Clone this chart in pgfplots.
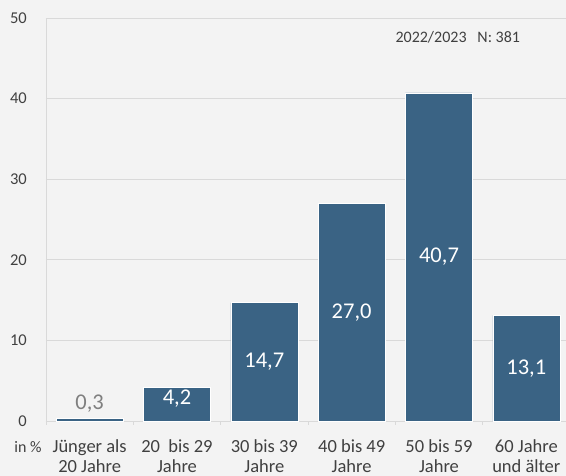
\documentclass[border=0pt]{standalone}
\usepackage{pgfplots}
\pgfplotsset{compat=1.18}
\usepackage{fontspec}
\setmainfont{Carlito}
\definecolor{bg}{HTML}{F3F3F3}
\definecolor{barc}{HTML}{3A6384}
\definecolor{gridc}{HTML}{D9D9D9}
\definecolor{txt}{HTML}{404040}
\definecolor{lbl}{HTML}{7F7F7F}
\begin{document}
\begin{tikzpicture}
\fill[bg] (-46pt,-55pt) rectangle (520pt,421pt);
\begin{axis}[
    at={(0,0)}, anchor=south west,
    scale only axis, width=524pt, height=403pt,
    xmin=-0.5, xmax=5.5, ymin=0, ymax=50,
    enlargelimits=false, clip=false,
    axis x line*=bottom, axis y line*=left,
    axis line style={draw=gridc, line width=0.8pt},
    ytick={0,10,...,50},
    /pgf/number format/assume math mode=true,
    ymajorgrids, grid style={draw=gridc, line width=0.8pt},
    ytick style={draw=none},
    xtick={-0.5,0.5,...,5.5},
    x tick label as interval,
    xticklabels={J\"unger als\\20 Jahre, 20\ \ bis 29\\Jahre, 30 bis 39\\Jahre,
                 40 bis 49\\Jahre, 50 bis 59\\Jahre, 60 Jahre\\und \"alter},
    xtick style={draw=gridc, line width=0.8pt},
    tick align=outside, major tick length=4pt,
    xticklabel style={align=center, inner sep=0pt, text=txt,
        font=\fontsize{18.5}{20.5}\selectfont, anchor=north, yshift=-14pt},
    yticklabel style={text=txt, inner sep=0pt, xshift=-15pt,
        font=\fontsize{16.5}{18}\selectfont},
]
\addplot[ybar, bar width=67pt, fill=barc, draw=white, line width=0.5pt]
    coordinates {(0,0.3) (1,4.2) (2,14.7) (3,27.0) (4,40.7) (5,13.1)};
% labels inside the bars
\addplot[draw=none, mark=none, nodes near coords, point meta=explicit symbolic,
    nodes near coords align=center,
    every node near coord/.append style={text=white, font=\fontsize{22.5}{24}\selectfont}]
    coordinates {(1,2.8)[4,2] (2,7.35)[14,7] (3,13.5)[27,0] (4,20.35)[40,7] (5,6.55)[13,1]};
\addplot[draw=none, mark=none, nodes near coords, point meta=explicit symbolic,
    nodes near coords align=center,
    every node near coord/.append style={text=lbl, font=\fontsize{22.5}{24}\selectfont}]
    coordinates {(0,2.2)[0,3]};
\node[anchor=base west, text=txt, font=\fontsize{16}{18}\selectfont]
    at (axis cs:3.462,47.02) {2022/2023\ \ \ N: 381};
\node[anchor=base, text=txt, font=\fontsize{16}{18}\selectfont]
    at (rel axis cs:0,0) [xshift=-18pt, yshift=-32pt] {in \%};
\end{axis}
\pgfresetboundingbox
\path (-46pt,-55pt) rectangle (520pt,421pt);
\end{tikzpicture}
\end{document}
